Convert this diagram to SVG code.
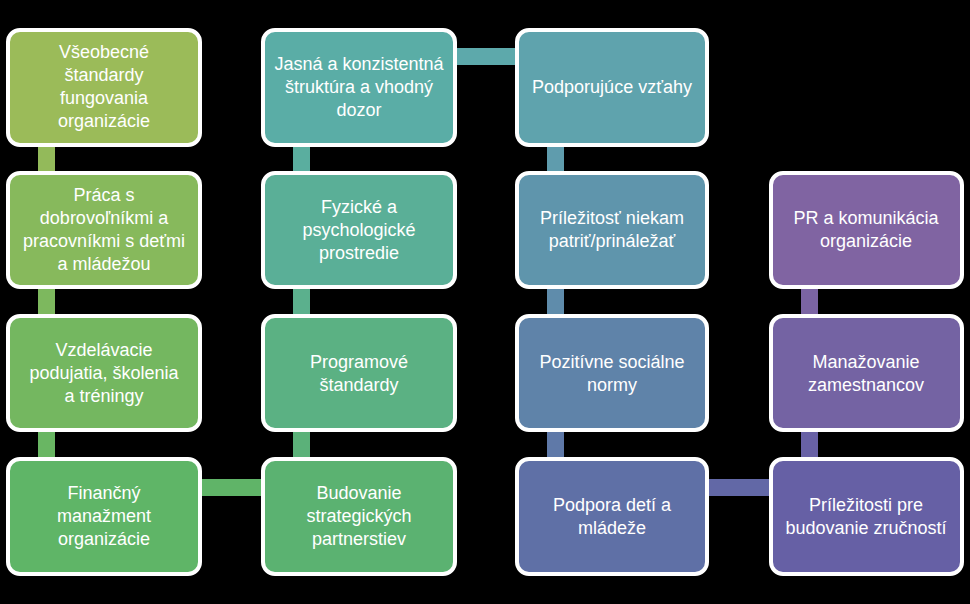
<svg xmlns="http://www.w3.org/2000/svg" width="970" height="604" viewBox="0 0 970 604">
<style>
.box{stroke:#ffffff;stroke-width:4}
text{font-family:"Liberation Sans","Noto Sans",Arial,sans-serif;font-size:18px;fill:#ffffff;text-anchor:middle}
</style>
<rect x="0" y="0" width="970" height="604" fill="#000000"/>
<g id="connectors">
<rect x="38" y="146" width="17" height="27" fill="#93ba5a"/>
<rect x="38" y="289" width="17" height="27" fill="#7db85e"/>
<rect x="38" y="432" width="17" height="27" fill="#69b663"/>
<rect x="293" y="146" width="17" height="27" fill="#5aae9f"/>
<rect x="293" y="289" width="17" height="27" fill="#5bb08d"/>
<rect x="293" y="432" width="17" height="27" fill="#5bb179"/>
<rect x="547" y="146" width="17" height="27" fill="#5f9cad"/>
<rect x="547" y="289" width="17" height="27" fill="#5f8cab"/>
<rect x="547" y="432" width="17" height="27" fill="#5f79a8"/>
<rect x="801" y="289" width="17" height="27" fill="#7b64a3"/>
<rect x="801" y="432" width="17" height="27" fill="#6861a5"/>
<rect x="201" y="479" width="62" height="17" fill="#60b468"/>
<rect x="455" y="48" width="62" height="17" fill="#5da9ab"/>
<rect x="707" y="479" width="64" height="17" fill="#6268a6"/>
</g>
<g id="n1"><rect class="box" x="8" y="30" width="192" height="115" rx="12" fill="#9bbb59"/>
<text x="104" y="58">Všeobecné</text><text x="104" y="81">štandardy</text><text x="104" y="104">fungovania</text><text x="104" y="127">organizácie</text></g>
<g id="n2"><rect class="box" x="8" y="173" width="192" height="114" rx="12" fill="#87b95c"/>
<text x="104" y="201">Práca s</text><text x="104" y="224">dobrovoľníkmi a</text><text x="104" y="247">pracovníkmi s deťmi</text><text x="104" y="270">a mládežou</text></g>
<g id="n3"><rect class="box" x="8" y="316" width="192" height="114" rx="12" fill="#74b760"/>
<text x="104" y="356">Vzdelávacie</text><text x="104" y="379">podujatia, školenia</text><text x="104" y="402">a tréningy</text></g>
<g id="n4"><rect class="box" x="8" y="459" width="192" height="115" rx="12" fill="#5fb567"/>
<text x="104" y="499">Finančný</text><text x="104" y="522">manažment</text><text x="104" y="545">organizácie</text></g>
<g id="n5"><rect class="box" x="263" y="30" width="192" height="115" rx="12" fill="#5aada6"/>
<text x="359" y="70">Jasná a konzistentná</text><text x="359" y="93">štruktúra a vhodný</text><text x="359" y="116">dozor</text></g>
<g id="n6"><rect class="box" x="263" y="173" width="192" height="114" rx="12" fill="#5aaf97"/>
<text x="359" y="213">Fyzické a</text><text x="359" y="236">psychologické</text><text x="359" y="259">prostredie</text></g>
<g id="n7"><rect class="box" x="263" y="316" width="192" height="114" rx="12" fill="#5bb183"/>
<text x="359" y="368">Programové</text><text x="359" y="391">štandardy</text></g>
<g id="n8"><rect class="box" x="263" y="459" width="192" height="115" rx="12" fill="#5bb271"/>
<text x="359" y="499">Budovanie</text><text x="359" y="522">strategických</text><text x="359" y="545">partnerstiev</text></g>
<g id="n9"><rect class="box" x="517" y="30" width="190" height="115" rx="12" fill="#5fa3ad"/>
<text x="612" y="93">Podporujúce vzťahy</text></g>
<g id="n10"><rect class="box" x="517" y="173" width="190" height="114" rx="12" fill="#5f95ac"/>
<text x="612" y="224">Príležitosť niekam</text><text x="612" y="247">patriť/prináležať</text></g>
<g id="n11"><rect class="box" x="517" y="316" width="190" height="114" rx="12" fill="#5f83a9"/>
<text x="612" y="368">Pozitívne sociálne</text><text x="612" y="391">normy</text></g>
<g id="n12"><rect class="box" x="517" y="459" width="190" height="115" rx="12" fill="#5f70a6"/>
<text x="612" y="511">Podpora detí a</text><text x="612" y="534">mládeže</text></g>
<g id="n13"><rect class="box" x="771" y="173" width="191" height="114" rx="12" fill="#8064a2"/>
<text x="866" y="224">PR a komunikácia</text><text x="866" y="247">organizácie</text></g>
<g id="n14"><rect class="box" x="771" y="316" width="191" height="114" rx="12" fill="#7463a3"/>
<text x="866" y="368">Manažovanie</text><text x="866" y="391">zamestnancov</text></g>
<g id="n15"><rect class="box" x="771" y="459" width="191" height="115" rx="12" fill="#6660a5"/>
<text x="866" y="511">Príležitosti pre</text><text x="866" y="534">budovanie zručností</text></g>
</svg>
